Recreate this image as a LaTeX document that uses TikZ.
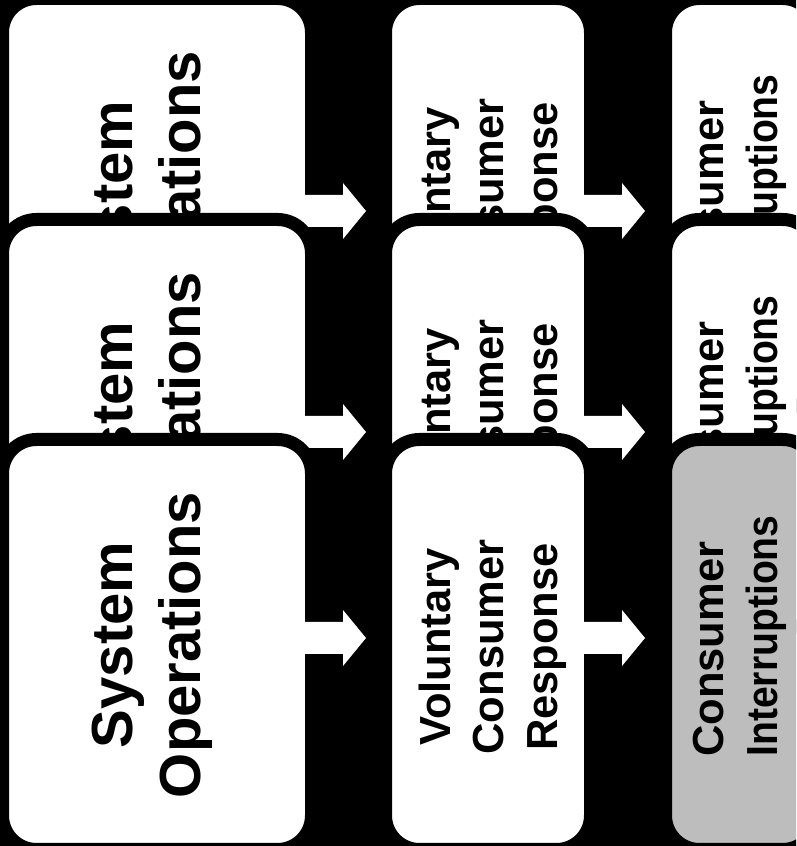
\documentclass[tikz,border=0pt]{standalone}
\usepackage{fontspec}
\setmainfont{Liberation Sans}
\usepackage{graphicx}
\definecolor{cardgray}{gray}{0.74}
\begin{document}
\begin{tikzpicture}[x=1pt,y=1pt,
  card/.style={rectangle, rounded corners=34pt, draw=black, line width=13pt,
               inner sep=0pt, outer sep=0pt, minimum height=410pt},
  bigtxt/.style={rotate=90, anchor=base, inner sep=0pt,
                 font=\fontsize{58}{70}\selectfont\bfseries},
  midtxt/.style={rotate=90, anchor=base, inner sep=0pt,
                 font=\fontsize{43.5}{53}\selectfont\bfseries},
  barrow/.pic={\fill[white] (-8,16) -- (38,16) -- (38,28) -- (61,0)
               -- (38,-28) -- (38,-16) -- (-8,-16) -- cycle;}
]
% page and black ground
\clip (0,0) rectangle (796,846);
\fill[black] (0,0) rectangle (796,846);

% three stacked rows, drawn from the back (top) to the front (bottom)
\foreach \r/\dy/\ay/\lastfill in {1/441/635/white, 2/220/414/white, 3/0/208/cardgray}{
  % cards
  \node[card, fill=white, minimum width=309pt] (sys\r) at (157,{201.5+\dy}) {};
  \node[card, fill=white, minimum width=205pt] (vol\r) at (488,{201.5+\dy}) {};
  \node[card, fill=\lastfill, minimum width=151pt] (int\r) at (741,{201.5+\dy}) {};
  % labels
  \node[bigtxt] (sysA\r) at (132,{201+\dy}) {System};
  \node[bigtxt] (sysB\r) at (200,{201+\dy}) {Operations};
  \node[midtxt] (volA\r) at (450,{199+\dy}) {Voluntary};
  \node[midtxt] (volB\r) at (503,{199+\dy}) {Consumer};
  \node[midtxt] (volC\r) at (557,{199+\dy}) {Response};
  \node[midtxt, anchor=base west] (intA\r) at (723,{89+\dy}) {Consumer};
  \node[midtxt, anchor=base west] (intB\r) at (777,{89+\dy}) {\scalebox{0.9}[1]{Interruptions}};
  % block arrows between the columns
  \pic (arA\r) at (305,\ay) {barrow};
  \pic (arB\r) at (584,\ay) {barrow};
}
\end{tikzpicture}
\end{document}
